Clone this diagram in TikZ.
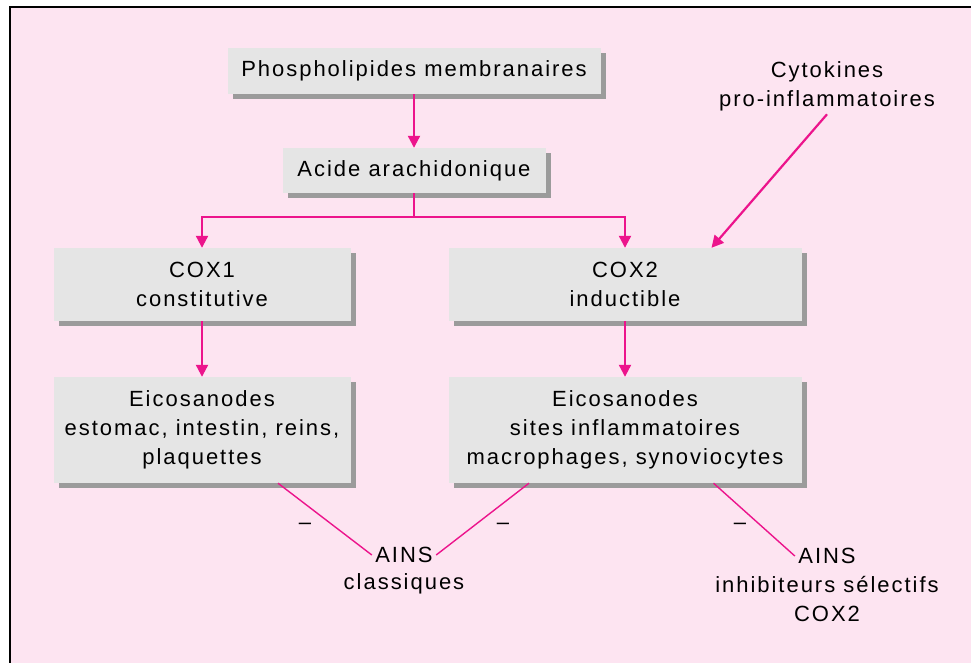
\documentclass[tikz,border=0pt]{standalone}
\usepackage{fontspec}
\setmainfont{Liberation Sans}[LetterSpace=9]
\usetikzlibrary{arrows.meta,shadows}
\definecolor{rose}{RGB}{253,228,241}
\definecolor{fuchsia}{RGB}{236,20,140}
\definecolor{gris}{RGB}{229,229,229}
\definecolor{ombre}{RGB}{155,155,155}
\begin{document}
\begin{tikzpicture}[x=1pt, y=-1pt,
	every node/.style={font=\fontsize{22}{29}\selectfont, align=center},
	boite/.style={fill=gris, inner sep=0pt,
		drop shadow={shadow xshift=5pt, shadow yshift=-5pt, fill=ombre, opacity=1}},
	fleche/.style={fuchsia, line width=2.2pt, -{Triangle[width=12pt,length=12pt]}},
	inhib/.style={fuchsia, line width=1.4pt}]

	\useasboundingbox (0,0) rectangle (971,663);
	\fill[rose] (10,7) rectangle (980,670);
	\draw[line width=2.5pt] (10,670) -- (10,7) -- (980,7);

	\node[boite, minimum width=373pt, minimum height=46pt] (phospho) at (414,71) {Phospholipides membranaires};
	\node[boite, minimum width=263pt, minimum height=45pt] (acide) at (414,170.5) {Acide arachidonique};
	\node[boite, minimum width=297pt, minimum height=73pt] (cox1) at (202,284.5) {COX1\\constitutive};
	\node[boite, minimum width=353pt, minimum height=73pt] (cox2) at (625,284.5) {COX2\\inductible};
	\node[boite, minimum width=297pt, minimum height=106pt] (eicos1) at (202,430) {Eicosanodes\\estomac, intestin, reins,\\plaquettes};
	\node[boite, minimum width=353pt, minimum height=106pt] (eicos2) at (625,430) {Eicosanodes\\sites inflammatoires\\macrophages, synoviocytes};

	\node (cyto) at (827,86) {Cytokines\\pro-inflammatoires};

	\node (ains1) at (404,555) {AINS};
	\node (ains1b) at (404,584) {classiques};
	\node (ains2) at (827,556) {AINS};
	\node (ains2b) at (827,599) {inhibiteurs sélectifs\\COX2};

	\node (moins1) at (305,526) {–};
	\node (moins2) at (503,526) {–};
	\node (moins3) at (740,526) {–};

	\coordinate (embr) at (414,217);

	\draw[fleche] (phospho) -- (acide);
	\draw[fuchsia, line width=2.2pt] (acide) -- (embr);
	\draw[fleche] (embr) -| (cox1);
	\draw[fleche] (embr) -| (cox2);
	\draw[fleche] (cox1) -- (eicos1);
	\draw[fleche] (cox2) -- (eicos2);
	\draw[fleche] (cyto.south) -- (cox2.23);

	\draw[inhib] (eicos1.-35) -- (ains1.west);
	\draw[inhib] (eicos2.-151) -- (ains1.east);
	\draw[inhib] (eicos2.-31) -- (ains2.west);
\end{tikzpicture}
\end{document}
